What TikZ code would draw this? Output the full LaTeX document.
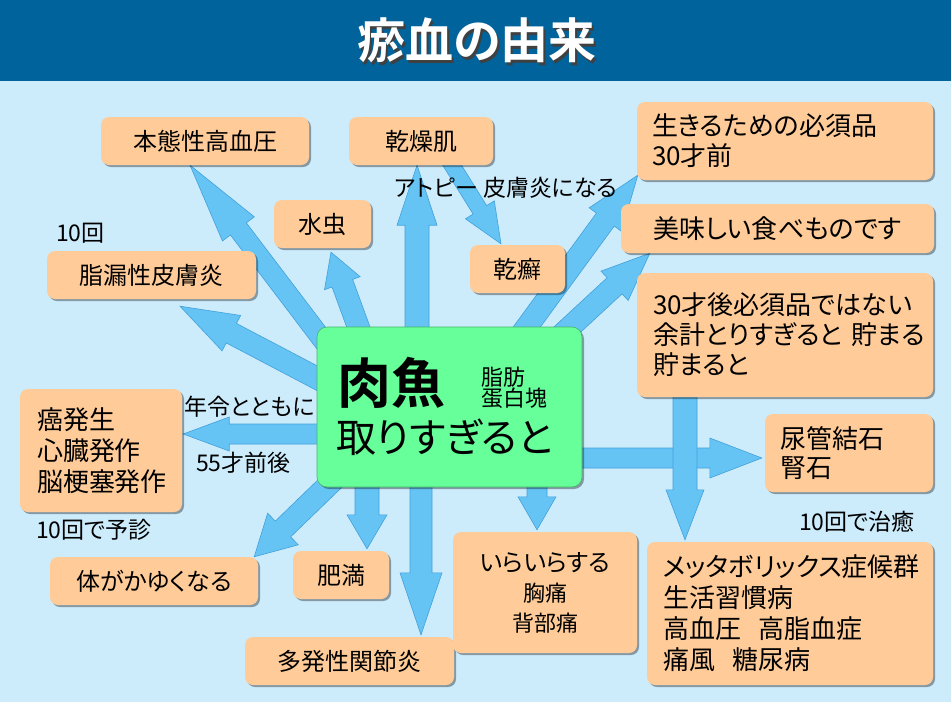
\documentclass[tikz,border=0pt]{standalone}
\usepackage{fontspec}
\setmainfont{Noto Sans CJK JP}[RawFeature=+palt, BoldFont={Noto Sans CJK JP Bold}]
\usepackage{tikz}
\usetikzlibrary{calc, shadows}
\usepackage{xcolor}
\definecolor{fundo}{RGB}{204,236,252}
\definecolor{faixa}{RGB}{0,99,155}
\definecolor{pessego}{RGB}{255,204,153}
\definecolor{verde}{RGB}{102,255,153}
\definecolor{seta}{RGB}{102,196,245}
\definecolor{setaborda}{RGB}{66,160,218}
\pgfdeclarelayer{camadafundo}\pgfdeclarelayer{camadasetas}
\pgfsetlayers{camadafundo,camadasetas,main}
\tikzset{
  fs/.style 2 args={font=\fontsize{#1pt}{#2pt}\selectfont},
  caixa/.style={rounded corners=8pt, fill=pessego, inner sep=0pt,
    drop shadow={shadow xshift=2pt, shadow yshift=-2pt, fill=black, opacity=0.35}},
  rotulo/.style={inner sep=0pt, fs={23}{23}},
  bloco/.style={fill=seta, draw=setaborda, line width=0.6pt, line join=miter}
}
\newcommand{\comsombra}[1]{\makebox[0pt][l]{\hspace{2pt}\raisebox{-3pt}{\color{black!75}#1}}#1}

\begin{document}
\begin{tikzpicture}[x=1pt, y=-1pt]
  \useasboundingbox (0,0) rectangle (951,702);
  \begin{pgfonlayer}{camadafundo}
    \fill[fundo] (0,0) rectangle (951,702);
    \fill[faixa] (0,0) rectangle (951,81);
  \end{pgfonlayer}
  \node[text=white, font=\fontsize{48pt}{48pt}\selectfont\bfseries] (titulo) at (477,42) {\comsombra{瘀血の由来}};

  % caixas: centro e tamanho em pixels da figura
  \node[caixa, minimum width=208pt, minimum height=48pt, fs={24}{29}] (hon) at (205,141) {本態性高血圧};
  \node[caixa, minimum width=144pt, minimum height=48pt, fs={24}{29}] (kan) at (421,141) {乾燥肌};
  \node[caixa, minimum height=78pt, text width=266pt, inner xsep=15pt, align=left, fs={26}{30}] (ikiru) at (785,141) {生きるための必須品\\30才前};
  \node[caixa, minimum width=97pt, minimum height=48pt, fs={24}{29}] (mizu) at (322.5,224) {水虫};
  \node[caixa, minimum width=95pt, minimum height=48pt, fs={24}{29}] (kansen) at (517.5,269) {乾癬};
  \node[caixa, minimum width=313pt, minimum height=49pt, fs={26}{30}] (oishii) at (777.5,228.5) {美味しい食べものです};
  \node[caixa, minimum width=209pt, minimum height=48pt, fs={24}{29}] (shiro) at (151.5,275) {脂漏性皮膚炎};
  \node[caixa, minimum height=124pt, text width=264pt, inner xsep=16pt, align=left, fs={26}{30}] (later) at (785,335) {30才後必須品ではない\\余計とりすぎると~貯まる\\貯まると};
  \node[caixa, minimum height=123pt, text width=128pt, inner xsep=17pt, align=left, fs={26}{31}] (gan) at (101,450.5) {癌発生\\心臓発作\\脳梗塞発作};
  \node[caixa, minimum height=78pt, text width=138pt, inner xsep=15pt, align=left, fs={26}{29}] (nyo) at (849,453) {尿管結石\\腎石};
  \node[caixa, minimum width=208pt, minimum height=48pt, fs={24}{29}] (kayui) at (154,581) {体がかゆくなる};
  \node[caixa, minimum width=96pt, minimum height=48pt, fs={24}{29}] (himan) at (341,575) {肥満};
  \node[caixa, minimum width=209pt, minimum height=48pt, fs={24}{29}] (tahatsu) at (349.5,661) {多発性関節炎};
  \node[caixa, minimum height=121pt, text width=184pt, align=center, fs={24}{30}] (ira) at (545,592.5) {いらいらする\\{\fontsize{22pt}{30pt}\selectfont 胸痛\\背部痛}};
  \node[caixa, minimum height=143pt, text width=254pt, inner xsep=16pt, align=left, fs={26}{31}] (meta) at (790,613.5) {メッタボリックス症候群\\生活習慣病\\高血圧~~高脂血症\\痛風~~糖尿病};

  \node[rounded corners=10pt, fill=verde, draw=verde!70!black, line width=0.6pt, minimum width=265pt, minimum height=160pt,
    drop shadow={shadow xshift=2pt, shadow yshift=-2pt, fill=black, opacity=0.35}] (carne) at (449.5,407) {};
  \node[anchor=west, inner sep=0pt, font=\fontsize{54pt}{54pt}\selectfont\bfseries] (carnetxt) at (337,383) {肉魚};
  \node[anchor=west, inner sep=0pt, align=left, fs={22}{21}] (gordura) at (481,388) {脂肪\\蛋白塊};
  \node[anchor=west, inner sep=0pt, fs={40}{40}] (demais) at (336,437) {取りすぎると};

  \node[rotulo, anchor=west] (dez) at (56,233) {10回};
  \node[rotulo] (atopia) at (506,188) {アトピー 皮膚炎になる};
  \node[rotulo, anchor=west] (idade) at (184,407) {年令とともに};
  \node[rotulo, anchor=west] (cinq) at (196,463) {55才前後};
  \node[rotulo, anchor=west] (yoshin) at (36,530) {10回で予診};
  \node[rotulo, anchor=west] (chiyu) at (799,522) {10回で治癒};

  % pontas e caudas das setas largas
  \coordinate (hon-tail) at ($(carne.center)+(-102.5,-35)$);  \coordinate (hon-tip) at ($(hon.south)+(-15,0)$);
  \coordinate (mizu-tail) at ($(carne.center)+(-87.5,-70)$);  \coordinate (mizu-tip) at ($(mizu.south)+(8.5,4)$);
  \coordinate (kan-tail) at ($(carne.center)+(-32.5,-72)$);   \coordinate (kan-tip) at ($(kan.south)+(-4,0)$);
  \coordinate (kansen-tail) at ($(kan.south)+(28,-5)$);       \coordinate (kansen-tip) at ($(kansen.north)+(-16.5,-1)$);
  \coordinate (ikiru-tail) at ($(carne.center)+(68.5,-68)$);  \coordinate (ikiru-tip) at ($(ikiru.south west)+(1,-5)$);
  \coordinate (oishii-tail) at ($(carne.center)+(106.5,-67)$); \coordinate (oishii-tip) at ($(oishii.south west)+(29,0)$);
  \coordinate (shiro-tail) at ($(carne.center)+(-119.5,-22)$); \coordinate (shiro-tip) at ($(shiro.south)+(28.5,7)$);
  \coordinate (gan-tail) at ($(carne.center)+(-119.5,27)$);   \coordinate (gan-tip) at ($(gan.east)+(1,-16.5)$);
  \coordinate (nyo-tail) at ($(carne.center)+(125.5,51)$);    \coordinate (nyo-tip) at ($(nyo.west)+(-3,5)$);
  \coordinate (meta-tail) at ($(later.south)+(-100,-5)$);     \coordinate (meta-tip) at ($(meta.north)+(-105,-2)$);
  \coordinate (ira-tail) at ($(carne.center)+(87.5,73)$);     \coordinate (ira-tip) at ($(ira.north)+(-8,-2)$);
  \coordinate (tahatsu-tail) at ($(carne.center)+(-28.5,73)$); \coordinate (tahatsu-tip) at ($(tahatsu.north)+(71.5,-2)$);
  \coordinate (himan-tail) at ($(carne.center)+(-82.5,73)$);  \coordinate (himan-tip) at ($(himan.north)+(26,-2)$);
  \coordinate (kayui-tail) at ($(carne.center)+(-103.5,61)$); \coordinate (kayui-tip) at ($(kayui.north east)+(-4,0)$);

  \begin{pgfonlayer}{camadasetas}
  \foreach \an/\asw/\ahw/\ahl in {hon/10pt/20pt/80pt, mizu/11pt/19pt/33pt, kan/12pt/20pt/60pt,
      kansen/8pt/17pt/40pt, ikiru/11pt/20pt/55pt, oishii/11pt/20pt/48pt, shiro/11pt/20pt/58pt,
      gan/10pt/17pt/46pt, nyo/10pt/20pt/52pt, meta/12pt/19pt/50pt, ira/10pt/19pt/33pt,
      tahatsu/11pt/21pt/62pt, himan/12pt/20pt/34pt, kayui/11pt/22pt/40pt}
  { \coordinate (ah) at ($(\an-tip)!\ahl!(\an-tail)$);
    \filldraw[bloco] ($(\an-tail)!\asw!90:(\an-tip)$) -- ($(ah)!\asw!90:(\an-tip)$) -- ($(ah)!\ahw!90:(\an-tip)$)
      -- (\an-tip) -- ($(ah)!\ahw!-90:(\an-tip)$) -- ($(ah)!\asw!-90:(\an-tip)$) -- ($(\an-tail)!\asw!-90:(\an-tip)$) -- cycle; }
  \end{pgfonlayer}
\end{tikzpicture}
\end{document}
